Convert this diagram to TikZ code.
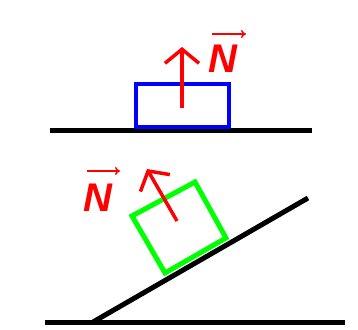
\documentclass[tikz,border=0pt]{standalone}
\usepackage{fontspec}
\newfontfamily\labelfont{Liberation Sans}
\usetikzlibrary{arrows.meta, calc}
\tikzset{
  ground/.style={line width=5pt, black},
  force/.style={line width=3.5pt, red, -{Straight Barb[length=14pt, width=34pt, line width=3.5pt]}},
  vlabel/.style={red, font=\labelfont\bfseries\itshape\fontsize{40}{40}\selectfont, inner sep=0pt},
  vbar/.style={red, line width=1.5pt, -{To[length=5pt, width=8pt]}}
}
\begin{document}
\begin{tikzpicture}[x=1pt, y=-1pt]
  \useasboundingbox (0,0) rectangle (358,329);
  % Flat ground with box
  \coordinate (G1) at (50,130);
  \coordinate (G2) at (312,130);
  \draw[ground] (G1) -- (G2);
  \draw[blue, line width=4pt] (136,84) rectangle (229,127);
  \coordinate (Fa) at (182,108);
  \coordinate (Ta) at (182,47);
  \draw[force] (Fa) -- (Ta);
  \node[vlabel] (Na) at (223,59) {N};
  \coordinate (Va1) at (212,34);
  \coordinate (Va2) at (246,34);
  \draw[vbar] (Va1) -- (Va2);
  
  % Inclined plane with box
  \coordinate (H1) at (45,322);
  \coordinate (H2) at (345,322);
  \coordinate (B) at (93,322);
  \coordinate (T) at (308,198);
  \draw[ground] (H1) -- (H2);
  \draw[ground] (B) -- (T);
  \draw[green, line width=5pt] (165,273) -- (226,238) -- (195,182) -- (132,216) -- cycle;
  \coordinate (Fb) at (177,221);
  \coordinate (Tb) at (147,169);
  \draw[force] (Fb) -- (Tb);
  \node[vlabel] (Nb) at (98,198) {N};
  \coordinate (Vb1) at (87,171);
  \coordinate (Vb2) at (120,171);
  \draw[vbar] (Vb1) -- (Vb2);
\end{tikzpicture}
\end{document}
